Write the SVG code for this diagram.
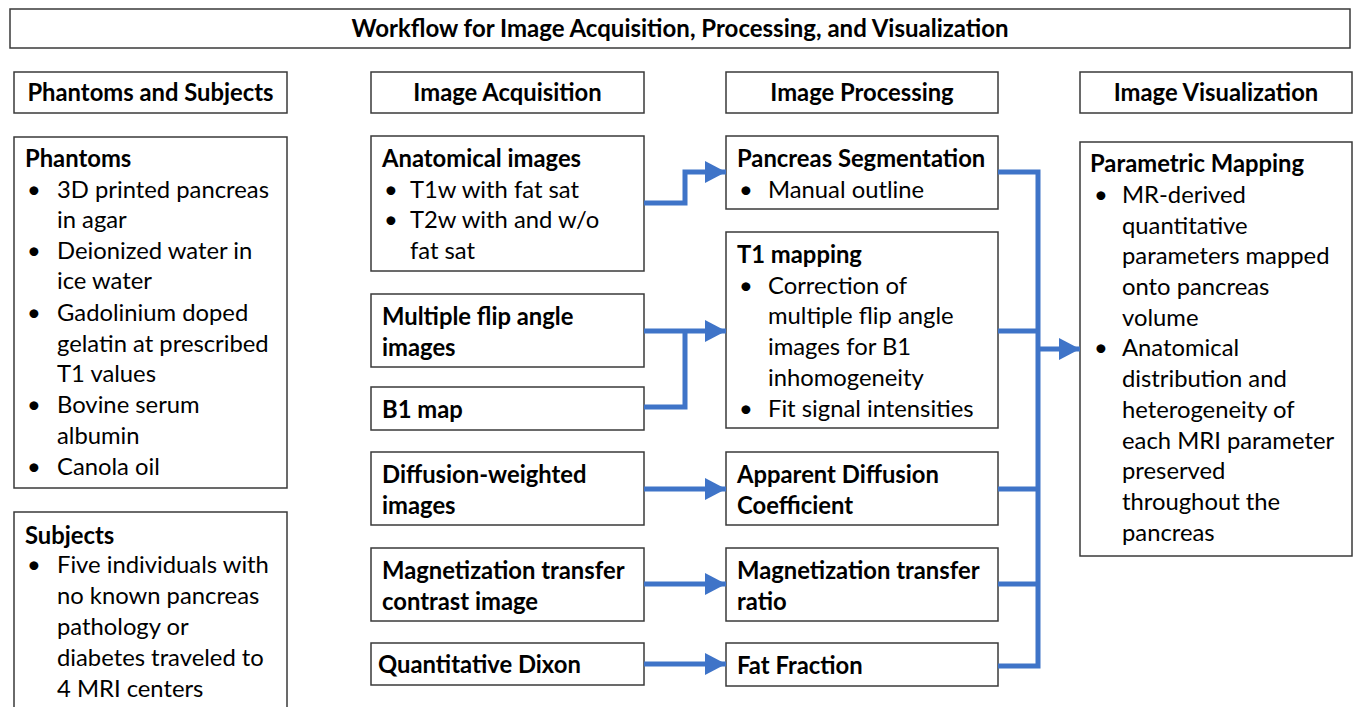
<svg xmlns="http://www.w3.org/2000/svg" width="1354" height="707" viewBox="0 0 1354 707">
  <style>
    .box { fill: #ffffff; stroke: #3a3a3a; stroke-width: 1.5; }
    text { font-family: Lato, "Open Sans", "Liberation Sans", sans-serif; font-size: 23.8px; fill: #000000; }
    .b { font-weight: bold; }
    .c { text-anchor: middle; }
    .t { font-size: 24px; }
    .wire { fill: none; stroke: #3f74c8; stroke-width: 5; stroke-linejoin: miter; }
  </style>
  <defs>
    <marker id="head" markerUnits="userSpaceOnUse" markerWidth="22" markerHeight="22" refX="21" refY="11" orient="auto">
      <path d="M0 0 L21 11 L0 22 Z" fill="#3f74c8"/>
    </marker>
  </defs>
  <rect width="1354" height="707" fill="#ffffff"/>

  <!-- title -->
  <g id="title">
    <rect class="box" x="10" y="9" width="1340" height="39"/>
    <text class="b c t" x="680" y="37">Workflow for Image Acquisition, Processing, and Visualization</text>
  </g>

  <!-- column headers -->
  <g id="hdr-subjects">
    <rect class="box" x="14" y="72" width="273" height="41"/>
    <text class="b c" x="150.5" y="101">Phantoms and Subjects</text>
  </g>
  <g id="hdr-acquisition">
    <rect class="box" x="371" y="72" width="273" height="41"/>
    <text class="b c" x="507.5" y="101">Image Acquisition</text>
  </g>
  <g id="hdr-processing">
    <rect class="box" x="726" y="72" width="272" height="41"/>
    <text class="b c" x="862" y="101">Image Processing</text>
  </g>
  <g id="hdr-visualization">
    <rect class="box" x="1080" y="72" width="272" height="41"/>
    <text class="b c" x="1216" y="101">Image Visualization</text>
  </g>

  <!-- phantoms and subjects -->
  <g id="phantoms">
    <rect class="box" x="14" y="137" width="273" height="351"/>
    <text class="b" x="25" y="167">Phantoms</text>
    <text x="27" y="198">•</text><text x="57" y="198">3D printed pancreas</text>
    <text x="57" y="228">in agar</text>
    <text x="27" y="259">•</text><text x="57" y="259">Deionized water in</text>
    <text x="57" y="289">ice water</text>
    <text x="27" y="321">•</text><text x="57" y="321">Gadolinium doped</text>
    <text x="57" y="352">gelatin at prescribed</text>
    <text x="57" y="382">T1 values</text>
    <text x="27" y="413">•</text><text x="57" y="413">Bovine serum</text>
    <text x="57" y="444">albumin</text>
    <text x="27" y="475">•</text><text x="57" y="475">Canola oil</text>
  </g>
  <g id="subjects">
    <rect class="box" x="14" y="512" width="273" height="210"/>
    <text class="b" x="25" y="544">Subjects</text>
    <text x="27" y="573">•</text><text x="57" y="573">Five individuals with</text>
    <text x="57" y="604">no known pancreas</text>
    <text x="57" y="635">pathology or</text>
    <text x="57" y="666">diabetes traveled to</text>
    <text x="57" y="697">4 MRI centers</text>
  </g>

  <!-- acquisition -->
  <g id="anatomical">
    <rect class="box" x="371" y="136" width="273" height="135"/>
    <text class="b" x="382" y="167">Anatomical images</text>
    <text x="384" y="198">•</text><text x="410" y="198">T1w with fat sat</text>
    <text x="384" y="228">•</text><text x="410" y="228">T2w with and w/o</text>
    <text x="410" y="259">fat sat</text>
  </g>
  <g id="flip-angle">
    <rect class="box" x="371" y="294" width="273" height="73"/>
    <text class="b" x="382" y="325">Multiple flip angle</text>
    <text class="b" x="382" y="356">images</text>
  </g>
  <g id="b1-map">
    <rect class="box" x="371" y="387" width="273" height="43"/>
    <text class="b" x="382" y="418">B1 map</text>
  </g>
  <g id="dwi">
    <rect class="box" x="371" y="452" width="273" height="73"/>
    <text class="b" x="382" y="483">Diffusion-weighted</text>
    <text class="b" x="382" y="514">images</text>
  </g>
  <g id="mt-contrast">
    <rect class="box" x="371" y="548" width="273" height="73"/>
    <text class="b" x="382" y="579">Magnetization transfer</text>
    <text class="b" x="382" y="610">contrast image</text>
  </g>
  <g id="dixon">
    <rect class="box" x="371" y="643" width="273" height="42"/>
    <text class="b" x="378" y="673">Quantitative Dixon</text>
  </g>

  <!-- processing -->
  <g id="segmentation">
    <rect class="box" x="726" y="136" width="272" height="73"/>
    <text class="b" x="737" y="167">Pancreas Segmentation</text>
    <text x="739" y="198">•</text><text x="768" y="198">Manual outline</text>
  </g>
  <g id="t1-mapping">
    <rect class="box" x="726" y="232" width="272" height="196"/>
    <text class="b" x="737" y="263">T1 mapping</text>
    <text x="739" y="294">•</text><text x="768" y="294">Correction of</text>
    <text x="768" y="324">multiple flip angle</text>
    <text x="768" y="355">images for B1</text>
    <text x="768" y="386">inhomogeneity</text>
    <text x="739" y="417">•</text><text x="768" y="417">Fit signal intensities</text>
  </g>
  <g id="adc">
    <rect class="box" x="726" y="452" width="272" height="73"/>
    <text class="b" x="737" y="483">Apparent Diffusion</text>
    <text class="b" x="737" y="514">Coefficient</text>
  </g>
  <g id="mtr">
    <rect class="box" x="726" y="548" width="272" height="73"/>
    <text class="b" x="737" y="579">Magnetization transfer</text>
    <text class="b" x="737" y="610">ratio</text>
  </g>
  <g id="fat-fraction">
    <rect class="box" x="726" y="643" width="272" height="43"/>
    <text class="b" x="737" y="674">Fat Fraction</text>
  </g>

  <!-- visualization -->
  <g id="parametric-mapping">
    <rect class="box" x="1080" y="142" width="272" height="414"/>
    <text class="b" x="1090" y="172">Parametric Mapping</text>
    <text x="1094" y="203">•</text><text x="1122" y="203">MR-derived</text>
    <text x="1122" y="234">quantitative</text>
    <text x="1122" y="264">parameters mapped</text>
    <text x="1122" y="295">onto pancreas</text>
    <text x="1122" y="326">volume</text>
    <text x="1094" y="356">•</text><text x="1122" y="356">Anatomical</text>
    <text x="1122" y="387">distribution and</text>
    <text x="1122" y="418">heterogeneity of</text>
    <text x="1122" y="449">each MRI parameter</text>
    <text x="1122" y="479">preserved</text>
    <text x="1122" y="510">throughout the</text>
    <text x="1122" y="541">pancreas</text>
  </g>

  <!-- connectors -->
  <g id="connectors">
    <path class="wire" d="M644 203 H685 V172 H726" marker-end="url(#head)"/>
    <path class="wire" d="M644 331 H726" marker-end="url(#head)"/>
    <path class="wire" d="M644 407 H685 V331"/>
    <path class="wire" d="M644 489 H726" marker-end="url(#head)"/>
    <path class="wire" d="M644 584 H726" marker-end="url(#head)"/>
    <path class="wire" d="M644 664 H726" marker-end="url(#head)"/>
    <path class="wire" d="M998 172 H1038 V666 H998"/>
    <path class="wire" d="M998 331 H1038"/>
    <path class="wire" d="M998 489 H1038"/>
    <path class="wire" d="M998 584 H1038"/>
    <path class="wire" d="M1038 349 H1080" marker-end="url(#head)"/>
  </g>
</svg>
